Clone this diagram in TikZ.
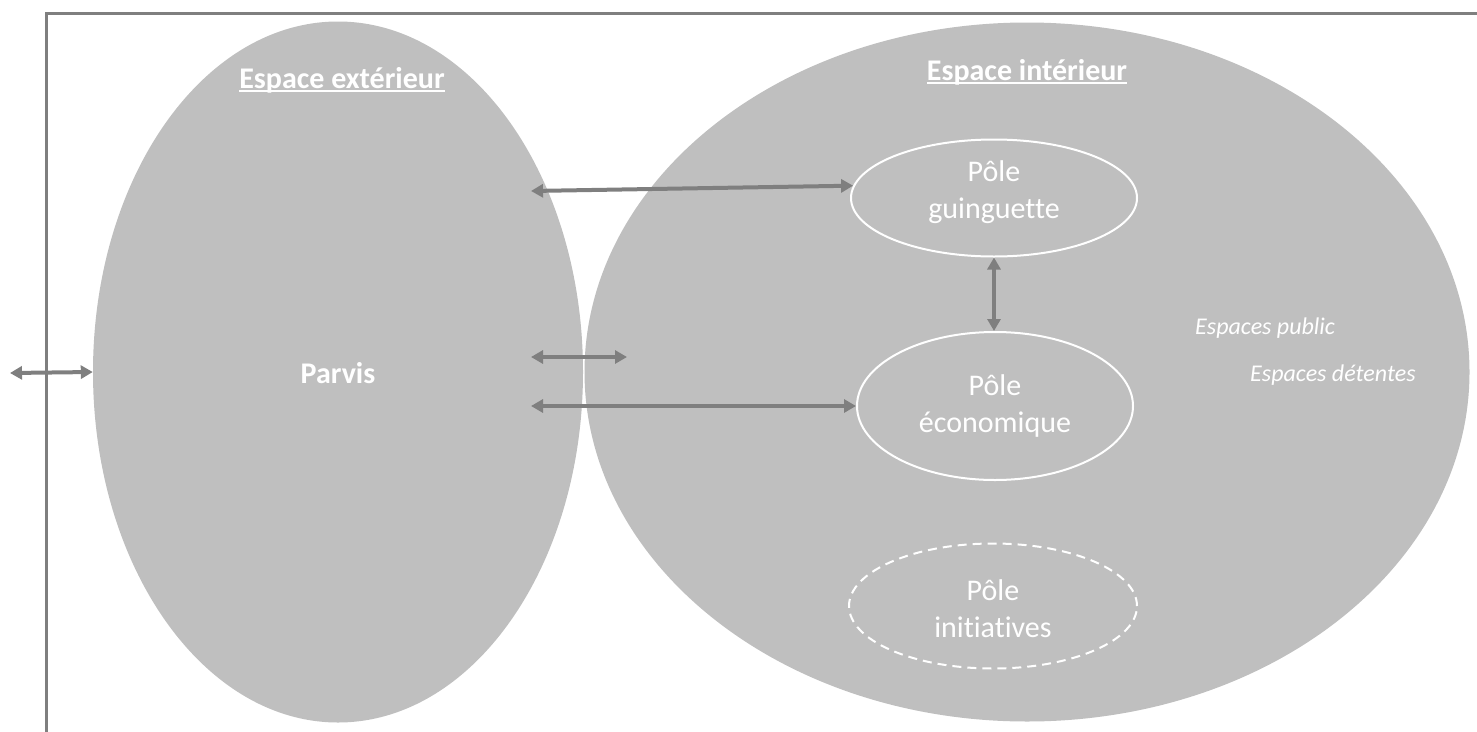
\documentclass[tikz,border=0pt]{standalone}
\usepackage{fontspec}
\setmainfont{Carlito}[Ligatures=CommonOff]
\usetikzlibrary{shapes.geometric,arrows.meta}
\definecolor{zonegray}{HTML}{BFBFBF}
\definecolor{linkgray}{HTML}{7F7F7F}
% underlined heading with a thicker rule
\newcommand\ulttl[1]{\setbox0=\hbox{#1}\rlap{\rule[-3.5pt]{\wd0}{1.6pt}}\box0}
\begin{document}
\begin{tikzpicture}[x=1pt,y=-1pt,
  zonebox/.style={ellipse, fill=zonegray, inner sep=0pt},
  polebox/.style={ellipse, draw=white, line width=2pt, inner sep=0pt},
  poletext/.style={text=white, align=center, inner sep=0pt, font=\fontsize{30}{37}\selectfont},
  heading/.style={text=white, inner sep=0pt, font=\bfseries\fontsize{30}{36}\selectfont},
  note/.style={text=white, anchor=west, inner sep=0pt, font=\itshape\fontsize{24}{29}\selectfont},
  link/.style={draw=linkgray, line width=4pt,
    {Triangle[length=12pt,width=13pt]}-{Triangle[length=12pt,width=13pt]}},
]
\useasboundingbox (0,0) rectangle (1477,731);

% frame
\draw[linkgray, line width=3pt] (46,735) -- (46,13) -- (1480,13);

% the two spaces
\node[zonebox, minimum width=490pt, minimum height=701pt] (ext) at (338,372) {};
\node[zonebox, minimum width=885pt, minimum height=699pt] (int) at (1027,372) {};

\node[heading] (extt) at (342,80) {\ulttl{Espace extérieur}};
\node[heading] (intt) at (1027,72) {\ulttl{Espace intérieur}};
\node[heading] (parvis) at (338,373) {Parvis};

% poles
\node[polebox, minimum width=286pt, minimum height=117pt] (gu) at (994,198) {};
\node[poletext] (gut) at (994,192) {Pôle\\guinguette};
\node[polebox, minimum width=276pt, minimum height=148pt] (eco) at (995,406) {};
\node[poletext] (ecot) at (995,406) {Pôle\\économique};
\node[polebox, dash pattern=on 9pt off 6pt, minimum width=288pt, minimum height=125pt] (ini) at (993,606) {};
\node[poletext] (init) at (993,609) {Pôle\\initiatives};

\node[note] (pub) at (1195,328) {Espaces public};
\node[note] (det) at (1250,375) {Espaces détentes};

% connections
\coordinate (a1) at (531,191);
\coordinate (a3) at (531,357);
\coordinate (b3) at (627,357);
\coordinate (a4) at (531,406);
\coordinate (out) at (10,373);

\draw[link] (a1) -- (gu.175);
\draw[link] (gu.south) -- (gu.south |- eco.north);
\draw[link] (a3) -- (b3);
\draw[link] (a4) -- (eco.west);
\draw[link] (out) -- (ext.west);
\end{tikzpicture}
\end{document}
